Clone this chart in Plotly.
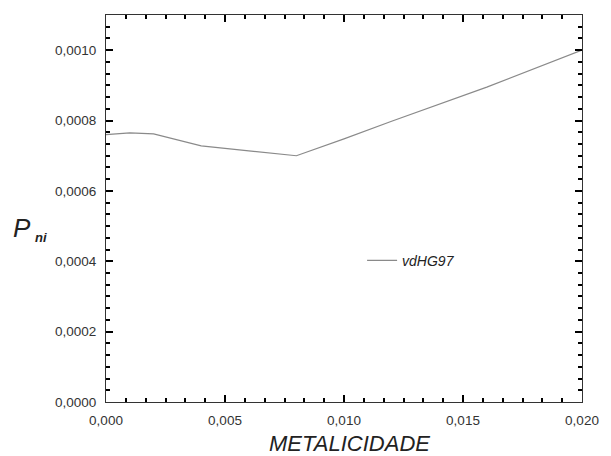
import plotly.graph_objects as go

metalicidade = [0.0, 0.001, 0.002, 0.004, 0.006, 0.008, 0.010, 0.012, 0.016, 0.020]
p_ni = [0.000760, 0.000765, 0.000762, 0.000728, 0.000714, 0.000700, 0.000748, 0.000798, 0.000895, 0.001000]
series_name = "vdHG97"

fig = go.Figure()
fig.add_trace(go.Scatter(
    x=metalicidade, y=p_ni, mode="lines", name=series_name,
    line=dict(color="#8a8a8a", width=1.2), showlegend=True,
))

fig.update_layout(
    width=611, height=456,
    margin=dict(l=106, r=18, t=15, b=54),
    paper_bgcolor="white", plot_bgcolor="white",
    separators=",.",
    legend=dict(x=0.538, y=0.365, xanchor="left", yanchor="middle", bgcolor="rgba(0,0,0,0)",
                font=dict(family="Liberation Sans, Arial", size=14, color="#222222", style="italic")),
    annotations=[
        dict(text="METALICIDADE", xref="paper", yref="paper", x=0.512, y=-0.106, yanchor="middle",
             showarrow=False, font=dict(family="Liberation Sans, Arial", size=22, color="#222222", style="italic")),
        dict(text="P", xref="paper", yref="paper", x=-0.2, y=0.45, xanchor="left", yanchor="middle",
             showarrow=False, font=dict(family="Liberation Sans, Arial", size=26, color="#222222", style="italic")),
        dict(text="<b>ni</b>", xref="paper", yref="paper", x=-0.154, y=0.425, xanchor="left", yanchor="middle",
             showarrow=False, font=dict(family="Liberation Sans, Arial", size=13, color="#222222", style="italic")),
    ],
)

axis_common = dict(
    showgrid=False, zeroline=False, showline=True, linecolor="#333333", linewidth=1,
    mirror="allticks", ticks="inside", ticklen=7, tickcolor="black", tickwidth=2,
    ticklabelstandoff=6,
    tickfont=dict(family="Liberation Sans, Arial", size=13.5, color="#333333"),
)

fig.update_xaxes(range=[0, 0.020], dtick=0.005, tickformat=".3f",
                 minor=dict(dtick=0.005 / 6, ticks="inside", ticklen=4, tickwidth=2,
                            tickcolor="black", showgrid=False),
                 **axis_common)
fig.update_yaxes(range=[0, 0.0011], dtick=0.0002, tickformat=".4f",
                 minor=dict(dtick=0.0002 / 6, ticks="inside", ticklen=4, tickwidth=2,
                            tickcolor="black", showgrid=False),
                 **axis_common)

fig.write_html("out.html")
